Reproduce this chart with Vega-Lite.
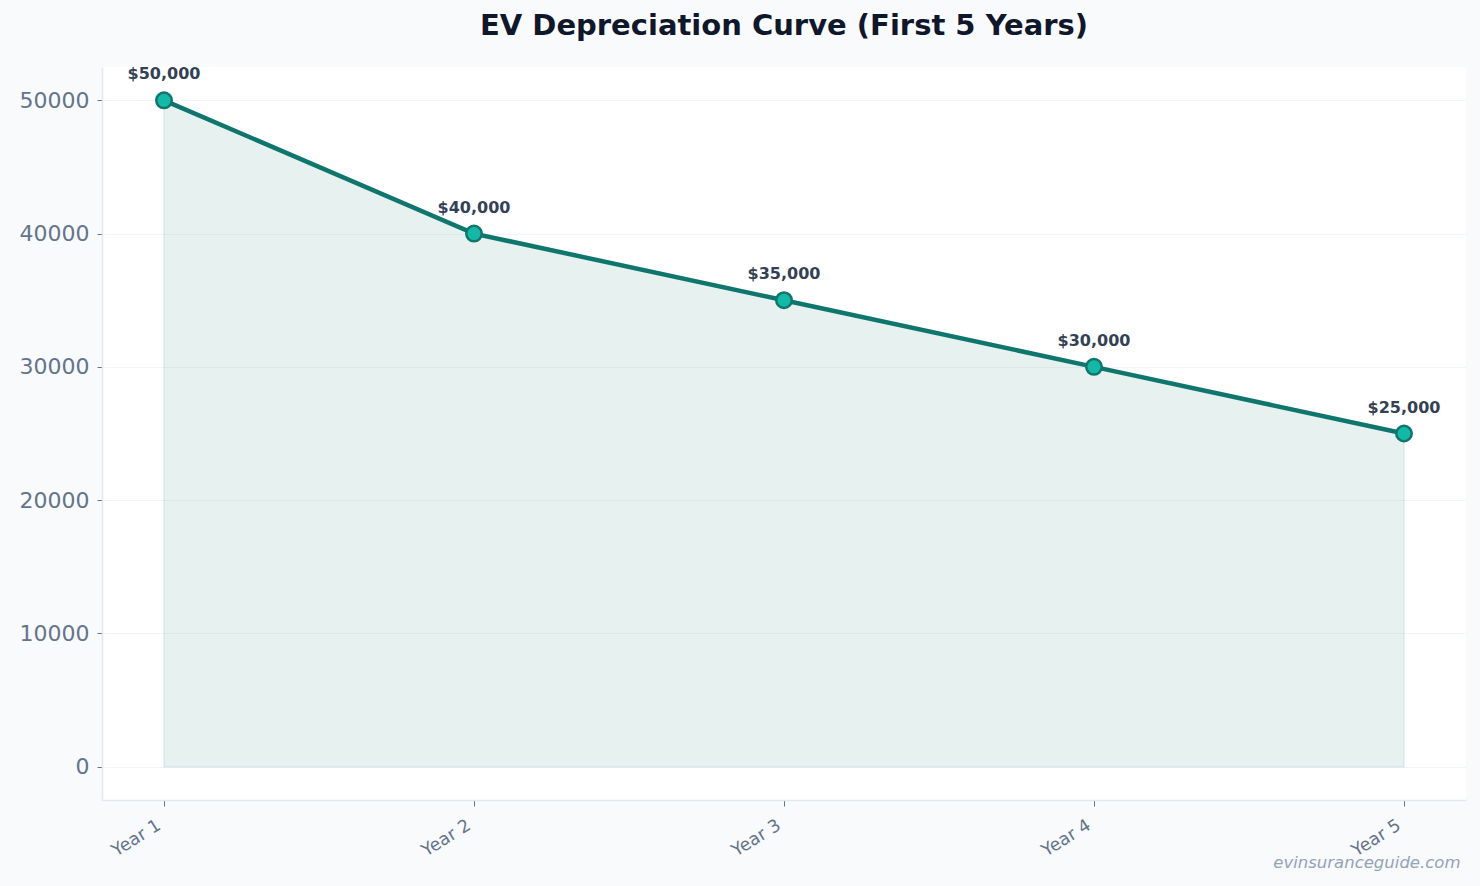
{
  "$schema": "https://vega.github.io/schema/vega-lite/v6.json",
  "width": 1364,
  "height": 733,
  "autosize": {"type": "none"},
  "padding": {"left": 102, "top": 67, "right": 14, "bottom": 86},
  "background": "#f8fafc",
  "title": {
    "text": "EV Depreciation Curve (First 5 Years)",
    "font": "DejaVu Sans",
    "fontSize": 29,
    "fontWeight": "bold",
    "color": "#0f172a",
    "anchor": "middle",
    "baseline": "alphabetic",
    "offset": 2
  },
  "config": {
    "font": "DejaVu Sans",
    "view": {"fill": "#ffffff", "stroke": null}
  },
  "data": {
    "values": [
      {"year": "Year 1", "value": 50000},
      {"year": "Year 2", "value": 40000},
      {"year": "Year 3", "value": 35000},
      {"year": "Year 4", "value": 30000},
      {"year": "Year 5", "value": 25000}
    ]
  },
  "encoding": {
    "x": {
      "field": "year",
      "type": "ordinal",
      "scale": {"type": "point", "padding": 0.2},
      "axis": {
        "title": "evinsuranceguide.com",
        "titleFont": "DejaVu Sans",
        "titleFontStyle": "italic",
        "titleFontWeight": "normal",
        "titleFontSize": 16.5,
        "titleColor": "#94a3b8",
        "titleAnchor": "end",
        "titleAlign": "right",
        "titleBaseline": "middle",
        "titleX": 1358,
        "titleY": 62,
        "labelAngle": -32,
        "labelAlign": "right",
        "labelBaseline": "top",
        "labelFontSize": 17.5,
        "labelColor": "#64748b",
        "labelPadding": 10,
        "labelOffset": -10,
        "tickColor": "#64748b",
        "tickSize": 6,
        "domainColor": "#e2e8f0",
        "domainWidth": 1.5,
        "grid": false
      }
    },
    "y": {
      "field": "value",
      "type": "quantitative",
      "scale": {"domain": [-2500, 52500], "nice": false, "zero": false},
      "axis": {
        "title": null,
        "values": [0, 10000, 20000, 30000, 40000, 50000],
        "format": "d",
        "labelFontSize": 22,
        "labelColor": "#64748b",
        "labelPadding": 8,
        "tickColor": "#64748b",
        "tickSize": 5,
        "domainColor": "#e2e8f0",
        "domainWidth": 1.5,
        "grid": true,
        "gridColor": "#f1f5f9",
        "gridWidth": 1
      }
    }
  },
  "layer": [
    {
      "mark": {
        "type": "area",
        "color": "#0f766e",
        "fillOpacity": 0.1,
        "stroke": "#0f766e",
        "strokeOpacity": 0.08,
        "strokeWidth": 2
      },
      "encoding": {"y2": {"datum": 0}}
    },
    {
      "mark": {"type": "line", "color": "#0f766e", "strokeWidth": 4.5}
    },
    {
      "mark": {
        "type": "point",
        "filled": true,
        "fill": "#14b8a6",
        "stroke": "#0f766e",
        "strokeWidth": 2.5,
        "size": 240,
        "opacity": 1
      }
    },
    {
      "mark": {
        "type": "text",
        "fontSize": 16,
        "fontWeight": "bold",
        "color": "#334155",
        "baseline": "middle",
        "dy": -26
      },
      "encoding": {"text": {"field": "value", "type": "quantitative", "format": "$,"}}
    }
  ]
}
